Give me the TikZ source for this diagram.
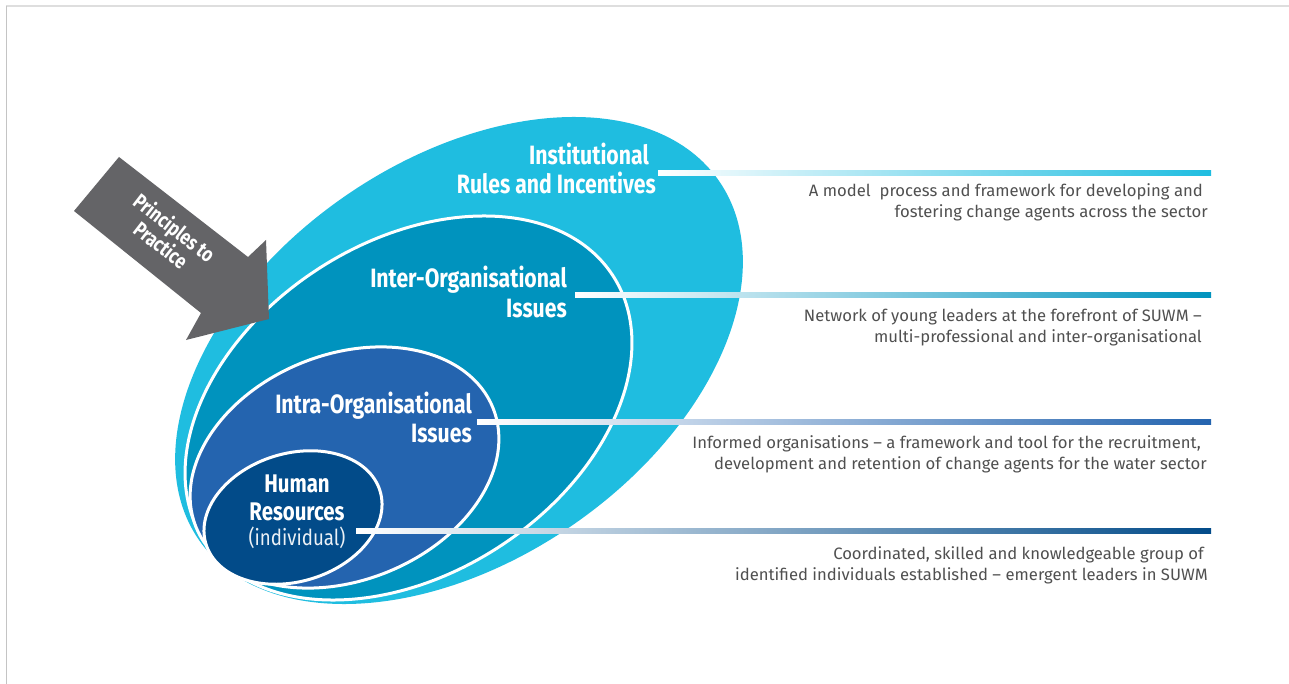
\documentclass[tikz,border=0pt]{standalone}
\usepackage{fontspec}
\setmainfont{Fira Sans}
\newfontfamily\titlefont{Fira Sans}[FakeStretch=0.8]
\newfontfamily\descfont{Fira Sans}[FakeStretch=1.01]
\newfontfamily\subfont{Fira Sans}[FakeStretch=0.85]
\usetikzlibrary{calc}
\definecolor{cOut}{HTML}{1FBDE0}
\definecolor{cInter}{HTML}{0093BE}
\definecolor{cIntra}{HTML}{2464AF}
\definecolor{cHum}{HTML}{024B89}
\definecolor{cArrow}{HTML}{646467}
\definecolor{cText}{HTML}{505050}
\definecolor{cTop}{HTML}{DEDEDE}
\definecolor{cLeft}{HTML}{C4C4C4}
\tikzset{
  ring/.style={draw=white, line width=3pt},
  title/.style={font=\titlefont\bfseries\fontsize{26.5}{29}\selectfont, text=white, inner sep=0pt, anchor=base east},
  humtitle/.style={font=\titlefont\bfseries\fontsize{25.5}{28}\selectfont, text=white, inner sep=0pt, anchor=base},
  humsub/.style={font=\subfont\fontsize{22}{26}\selectfont, text=white!92!cHum, inner sep=0pt, anchor=base},
  arrowtxt/.style={font=\titlefont\bfseries\fontsize{21}{22}\selectfont, text=white, inner sep=0pt, align=center},
  desc/.style={font=\descfont\fontsize{16.5}{21}\selectfont, text=cText, inner sep=0pt, anchor=base east},
}
\begin{document}
\begin{tikzpicture}[x=1pt,y=-1pt]
\useasboundingbox (0,0) rectangle (1289,684);
\fill[white] (0,0) rectangle (1289,684);
% frame
\draw[cTop, line width=2pt] (6,6.5) -- (1289,6.5);
\draw[cLeft, line width=1.5pt] (6.5,6) -- (6.5,684);
% nested ellipses
\begin{scope}[shift={(459,360.5)}, rotate=34.6]
  \fill[cOut] (0,0) ellipse [x radius=316pt, y radius=200pt];
\end{scope}
\begin{scope}[shift={(408.5,408)}, rotate=32.9]
  \fill[cInter, ring] (0,0) ellipse [x radius=243.5pt, y radius=165.8pt];
\end{scope}
\begin{scope}[shift={(344.5,467.5)}, rotate=21.8]
  \fill[cIntra, ring] (0,0) ellipse [x radius=160pt, y radius=113pt];
\end{scope}
\begin{scope}[shift={(293,517.5)}, rotate=17]
  \fill[cHum, ring] (0,0) ellipse [x radius=91pt, y radius=64pt];
\end{scope}
% arrow
\fill[cArrow] (119,157) -- (248,257) -- (266,240) -- (269,319) -- (186,340) -- (201,313) -- (74,211) -- cycle;
\node[arrowtxt, rotate=-37.8] (ptp) at (168,236) {Principles to\\Practice};
% connector lines
\coordinate (a1) at (658,170.2); \coordinate (b1) at (1211,175.2);
\coordinate (a2) at (575,292.7); \coordinate (b2) at (1211,297.7);
\coordinate (a3) at (477,419.2); \coordinate (b3) at (1211,424.2);
\coordinate (a4) at (356,528.2); \coordinate (b4) at (1211,533.2);
\shade[left color=white, right color=cOut] (a1) rectangle (b1);
\shade[left color=white, right color=cInter] (a2) rectangle (b2);
\shade[left color=white, right color=cIntra] (a3) rectangle (b3);
\shade[left color=white, right color=cHum] (a4) rectangle (b4);
% titles
\node[title] (t1a) at (649,165) {Institutional};
\node[title] (t1b) at (656,194) {Rules and Incentives};
\node[title] (t2a) at (567,288) {Inter-Organisational};
\node[title] (t2b) at (567,317) {Issues};
\node[title] (t3a) at (472,413) {Intra-Organisational};
\node[title] (t3b) at (472,442) {Issues};
\node[humtitle] (t4a) at (297,492) {Human};
\node[humtitle] (t4b) at (297,520) {Resources};
\node[humsub] (t4c) at (297,545) {(individual)};
% descriptions
\node[desc] (d1a) at (1203,197) {A model~ process and framework for developing and};
\node[desc] (d1b) at (1208,218) {fostering change agents across the sector};
\node[desc] (d2a) at (1202,321) {Network of young leaders at the forefront of SUWM –};
\node[desc] (d2b) at (1202,342) {multi-professional and inter-organisational};
\node[desc] (d3a) at (1201,448) {Informed organisations – a framework and tool for the recruitment,};
\node[desc] (d3b) at (1207,469) {development and retention of change agents for the water sector};
\node[desc] (d4a) at (1204,559) {Coordinated, skilled and knowledgeable group of};
\node[desc] (d4b) at (1208,580) {identified individuals established – emergent leaders in SUWM};
\end{tikzpicture}
\end{document}
